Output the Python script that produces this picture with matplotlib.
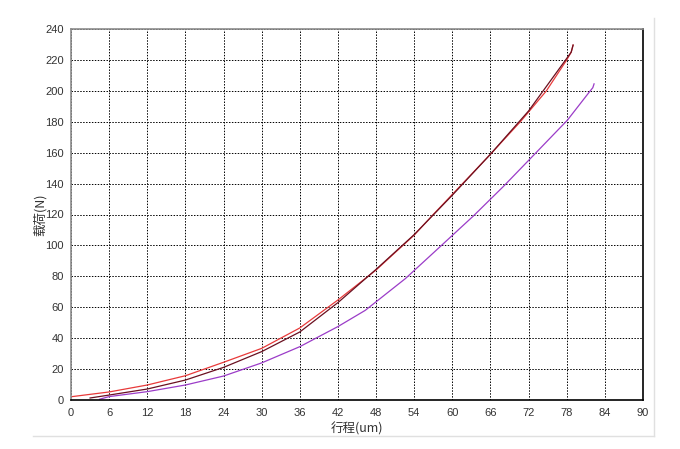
import matplotlib
matplotlib.use("Agg")
import matplotlib.pyplot as plt
from matplotlib.lines import Line2D

# curve 1 (red, loading)
red_x = [0, 6, 12, 18, 24, 30, 36, 42, 48, 54, 57, 60, 66, 70.7, 74.8, 78, 78.7, 79]
red_y = [2.1, 5.2, 9.7, 15.7, 24.4, 33.4, 46.6, 64.7, 84.1, 106.7, 120, 133, 159, 180, 200, 220, 225, 229.6]

# curve 2 (dark red, unloading)
dark_x = [3, 6, 12, 18, 24, 30, 36, 42, 48, 54, 60, 66, 72, 78, 78.7, 79]
dark_y = [1.3, 3.2, 7.1, 12.9, 21.1, 31.3, 44, 63, 84.5, 107, 132.5, 159, 187, 221, 225, 229.6]

# curve 3 (purple)
pur_x = [4.5, 6, 12, 18, 24, 30, 36, 42, 46.3, 52.6, 57.5, 63.3, 68, 72, 78.1, 81.7, 82.1, 82.3]
pur_y = [0.5, 2.2, 5.4, 9.7, 15.5, 24, 34.5, 47.5, 58, 78.5, 97, 119, 138, 155, 181, 200, 202, 204.5]

x_ticks = list(range(0, 91, 6))
y_ticks = list(range(0, 241, 20))

plt.rcParams['font.family'] = ['Liberation Sans', 'DejaVu Sans']

fig = plt.figure(figsize=(6.8, 4.49), dpi=100)
ax = fig.add_axes([71 / 680, 49 / 449, 572 / 680, 371 / 449])

ax.plot(red_x, red_y, color='#e83a3a', lw=0.9)
ax.plot(dark_x, dark_y, color='#6a1020', lw=0.9)
ax.plot(pur_x, pur_y, color='#9b3cc8', lw=0.9)

ax.set_xlim(0, 90)
ax.set_ylim(0, 240)
ax.set_xticks(x_ticks)
ax.set_yticks(y_ticks)
ax.tick_params(length=0, labelsize=8, colors='#333333')
ax.tick_params(axis='x', pad=6)
ax.tick_params(axis='y', pad=5)
ax.grid(True, color='black', linestyle=(0, (1.5, 1.5)), lw=0.7)

ax.spines['top'].set_color('#8c8c8c')
ax.spines['left'].set_color('#8c8c8c')
ax.spines['right'].set_color('black')
ax.spines['bottom'].set_color('black')
for s in ax.spines.values():
    s.set_linewidth(1.2)

cjk = ['Noto Sans CJK SC', 'DejaVu Sans']
ax.set_xlabel('行程(um)', family=cjk, fontsize=9, color='#333333', labelpad=3)
ax.set_ylabel('载荷(N)', family=cjk, fontsize=9, color='#333333', labelpad=-1)

# light outer panel frame
fig.add_artist(Line2D([33 / 680, 654 / 680], [1 - 436 / 449, 1 - 436 / 449], color='#e0e0e0', lw=1))
fig.add_artist(Line2D([654 / 680, 654 / 680], [1 - 436 / 449, 1 - 18 / 449], color='#e0e0e0', lw=1))

fig.savefig('out.png', dpi=100)
